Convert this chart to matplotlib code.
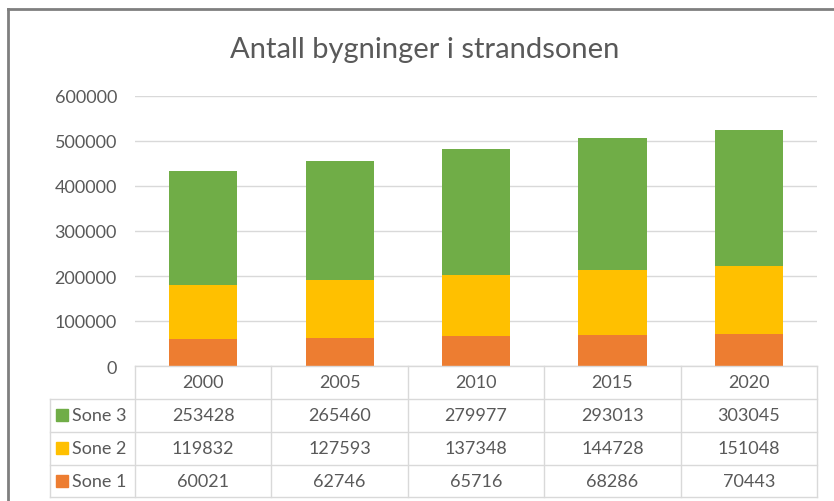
import matplotlib
matplotlib.use("Agg")
import matplotlib.pyplot as plt
from matplotlib.lines import Line2D
from matplotlib.patches import Rectangle
from matplotlib.transforms import blended_transform_factory

plt.rcParams['font.family'] = ['Lato', 'DejaVu Sans']

# data
years = ['2000', '2005', '2010', '2015', '2020']
sone1 = [60021, 62746, 65716, 68286, 70443]
sone2 = [119832, 127593, 137348, 144728, 151048]
sone3 = [253428, 265460, 279977, 293013, 303045]
series_names = ['Sone 3', 'Sone 2', 'Sone 1']
colors = {'Sone 1': '#ED7D31', 'Sone 2': '#FFC000', 'Sone 3': '#70AD47'}

W, H = 834, 502
fig = plt.figure(figsize=(W / 100, H / 100), dpi=100)
fig.patch.set_facecolor('white')

def px(x):
    return x / W

def py(y):
    return 1 - y / H

ax = fig.add_axes([px(135), py(367), px(817) - px(135), py(97) - py(367)])

x = list(range(len(years)))
ax.bar(x, sone1, width=0.5, color=colors['Sone 1'], zorder=3)
bottom2 = sone1
ax.bar(x, sone2, width=0.5, bottom=bottom2, color=colors['Sone 2'], zorder=3)
bottom3 = [a + b for a, b in zip(sone1, sone2)]
ax.bar(x, sone3, width=0.5, bottom=bottom3, color=colors['Sone 3'], zorder=3)

ax.set_xlim(-0.5, len(years) - 0.5)
ax.set_ylim(0, 600000)
ax.set_yticks(range(0, 600001, 100000))
ax.set_yticklabels([str(v) for v in range(0, 600001, 100000)])
ax.tick_params(axis='y', length=0, pad=13, labelsize=13, labelcolor='#595959')
ax.set_xticks([])
ax.grid(axis='y', color='#D9D9D9', linewidth=1, zorder=0)
for s in ax.spines.values():
    s.set_visible(False)

fig.text(px(425), py(50), 'Antall bygninger i strandsonen', ha='center', va='center',
         fontsize=21, color='#595959')

# data table under the chart
grid_c = '#D9D9D9'
lines = []
lines.append(((135, 817), (367, 367)))
for yy in (400, 433, 466, 498):
    lines.append(((50, 817), (yy, yy)))
lines.append(((50, 50), (400, 498)))
for i in range(len(years) + 1):
    xx = 135 + i * (817 - 135) / len(years)
    lines.append(((xx, xx), (367, 498)))
for (xs, ys) in lines:
    fig.add_artist(Line2D([px(xs[0]), px(xs[1])], [py(ys[0]), py(ys[1])],
                          color=grid_c, linewidth=1, transform=fig.transFigure))

tr = blended_transform_factory(ax.transData, fig.transFigure)
txt_kw = dict(fontsize=13, color='#595959', ha='center', va='center')
for i, yr in enumerate(years):
    ax.text(i, py(383), yr, transform=tr, **txt_kw)

rows = {'Sone 3': sone3, 'Sone 2': sone2, 'Sone 1': sone1}
row_y = [416, 449, 482]
for name, yy in zip(series_names, row_y):
    fig.add_artist(Rectangle((px(56), py(yy + 6)), px(12), py(0) - py(12),
                             color=colors[name], transform=fig.transFigure))
    fig.text(px(72), py(yy), name, ha='left', va='center', fontsize=13, color='#595959')
    for i, v in enumerate(rows[name]):
        ax.text(i, py(yy), str(v), transform=tr, **txt_kw)

# outer chart frame
fig.add_artist(Line2D([px(8), px(8)], [py(10), py(H + 5)], color='#7F7F7F',
                      linewidth=2, transform=fig.transFigure))
fig.add_artist(Line2D([px(8), px(W + 5)], [py(10), py(10)], color='#7F7F7F',
                      linewidth=2, transform=fig.transFigure))

fig.savefig('out.png', dpi=100)
